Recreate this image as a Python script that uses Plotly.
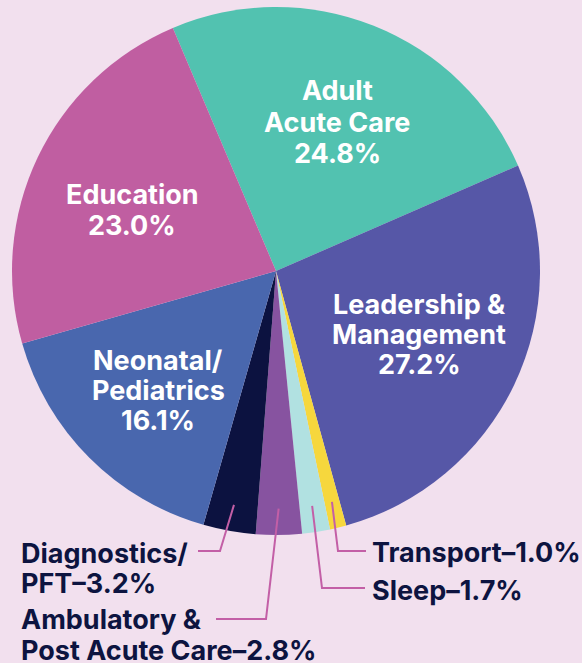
import math
import plotly.graph_objects as go

# ---------------- data ----------------
categories = ["Adult Acute Care", "Leadership & Management", "Transport", "Sleep",
              "Ambulatory & Post Acute Care", "Diagnostics/PFT", "Neonatal/Pediatrics", "Education"]
values = [24.8, 27.2, 1.0, 1.7, 2.8, 3.2, 16.1, 23.0]
label_lines = [["Adult", "Acute Care"], ["Leadership &", "Management"], ["Transport"], ["Sleep"],
               ["Ambulatory &", "Post Acute Care"], ["Diagnostics/", "PFT"],
               ["Neonatal/", "Pediatrics"], ["Education"]]
inside = [True, True, False, False, False, False, True, True]

# ---------------- style ----------------
colors = ["#52C2B0", "#5657A7", "#F6D73D", "#B1E1E1", "#8753A0", "#0C1240", "#4967AE", "#C05EA1"]
BG = "#F2E0EE"
DARK = "#0D1440"
LEADER = "#C35FA6"
W, H = 582, 663
CX, CY, R = 276, 271, 264
ROT = -23
FONT = "Inter"
FS = 27

def px(x):
    return x / W

def py(y):
    return 1 - y / H

# label anchor (pixel) positions: inside -> (center x, first line y); outside -> (left x, first line y)
label_pos = [(337, 91), (419, 305), (370, 552), (370, 590), (19, 619), (19, 553), (158, 360), (132, 194)]
line_gap = [31, 29.5, 30, 30, 31, 30, 30, 31]
# leader elbows for outside labels: (elbow x, elbow y, end x)
elbows = {2: (338, 551, 366), 3: (322, 588, 365), 4: (266, 619, 216), 5: (220, 551, 198)}

fig = go.Figure(go.Pie(
    labels=categories, values=values, sort=False, direction="clockwise",
    rotation=ROT, marker=dict(colors=colors, line=dict(width=0)),
    textinfo="none", hoverinfo="label+value", showlegend=False,
    domain=dict(x=[px(CX - R), px(CX + R)], y=[py(CY + R), py(CY - R)]),
))

annotations = []
shapes = []
total = sum(values)
cum = 0.0
for i, (cat, v) in enumerate(zip(categories, values)):
    start = ROT + cum / total * 360
    cum += v
    end = ROT + cum / total * 360
    mid = math.radians((start + end) / 2)
    lines = list(label_lines[i])
    pct = f"{v:.1f}%"
    if inside[i]:
        lines.append(pct)
        x0, y0 = label_pos[i]
        for k, t in enumerate(lines):
            annotations.append(dict(
                x=px(x0), y=py(y0 + k * line_gap[i]), xref="paper", yref="paper",
                text=t, showarrow=False, xanchor="center", yanchor="middle",
                font=dict(family=FONT, size=FS, color="white", weight=700)))
    else:
        lines[-1] = lines[-1] + "\u2013" + pct
        x0, y0 = label_pos[i]
        for k, t in enumerate(lines):
            annotations.append(dict(
                x=px(x0), y=py(y0 + k * line_gap[i]), xref="paper", yref="paper",
                text=t, showarrow=False, xanchor="left", yanchor="middle",
                font=dict(family=FONT, size=FS, color=DARK, weight=700)))
        sx = CX + 0.9 * R * math.sin(mid)
        sy = CY - 0.9 * R * math.cos(mid)
        ex, ey, endx = elbows[i]
        shapes.append(dict(
            type="path", xref="paper", yref="paper",
            path=f"M {px(sx)},{py(sy)} L {px(ex)},{py(ey)} L {px(endx)},{py(ey)}",
            line=dict(color=LEADER, width=2)))

fig.update_layout(
    width=W, height=H, margin=dict(l=0, r=0, t=0, b=0),
    paper_bgcolor=BG, plot_bgcolor=BG,
    annotations=annotations, shapes=shapes,
)
fig.write_html("out.html", config={"displayModeBar": False},
               post_script="document.body.style.margin='0';document.body.style.background='%s';" % BG)
